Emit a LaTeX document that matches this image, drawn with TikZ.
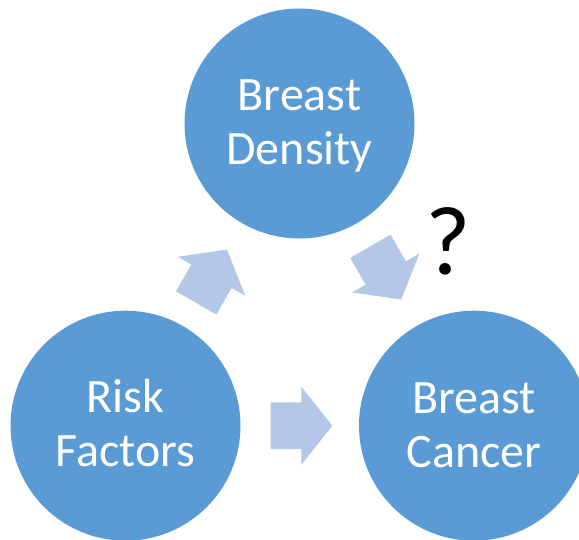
\documentclass[tikz,border=0pt]{standalone}
\usepackage{fontspec}
\setmainfont{Carlito}
\usetikzlibrary{calc}
\definecolor{circleblue}{HTML}{5B9BD5}
\definecolor{arrowblue}{HTML}{B4C7E7}
\tikzset{
  bubble/.style={circle, fill=circleblue, draw=none, minimum size=230pt, inner sep=0pt},
  bubbletext/.style={text=white, font=\fontsize{48}{54}\selectfont, align=center, anchor=base, inner sep=0pt},
  qmark/.style={text=black, font=\fontsize{98}{100}\selectfont, anchor=base, inner sep=0pt},
  blockarrow/.pic={
    \fill[arrowblue] (-30.8,-23.3) -- (0,-23.3) -- (0,-38.9) -- (30.8,0)
      -- (0,38.9) -- (0,23.3) -- (-30.8,23.3) -- cycle;
  },
}
\begin{document}
\begin{tikzpicture}[x=1pt, y=-1pt]
  \useasboundingbox (0,0) rectangle (579,540);
  \clip (0,0) rectangle (579,540);

  % the three circles
  \node[bubble] (bd) at (299.5,123.5) {};
  \node[bubble] (rf) at (125.5,425.7) {};
  \node[bubble] (bc) at (474,425.7) {};

  % circle labels, placed by the baseline of their last line
  \node[bubbletext] (bdtext) at (299.5,165) {Breast\\Density};
  \node[bubbletext] (rftext) at (125.3,466.7) {Risk\\Factors};
  \node[bubbletext] (bctext) at (474,467) {Breast\\Cancer};

  % block arrows midway between the circles
  \coordinate (m1) at ($(rf)!0.4945!(bd)$);
  \coordinate (m2) at ($(bd)!0.4945!(bc)$);
  \coordinate (m3) at ($(rf)!0.505!(bc)$);
  \pic[rotate=60] at (m1) {blockarrow};
  \pic[rotate=-60] at (m2) {blockarrow};
  \pic at (m3) {blockarrow};

  % open question on the density link
  \node[qmark] (q) at (448.3,275) {?};
\end{tikzpicture}
\end{document}
